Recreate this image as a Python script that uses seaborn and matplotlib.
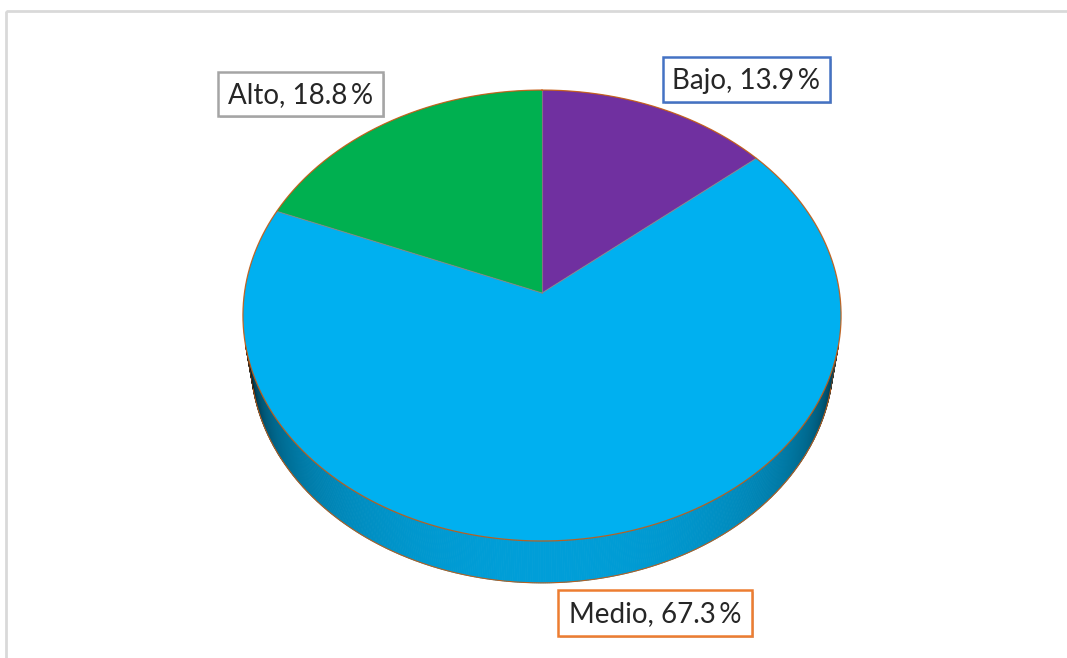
import numpy as np
import matplotlib
matplotlib.use("Agg")
import matplotlib.pyplot as plt
import matplotlib.patheffects as pe
from matplotlib.patches import Polygon, Rectangle
import seaborn as sns

# ---- data -------------------------------------------------------------
categories = ["Bajo", "Medio", "Alto"]
percentages = [13.9, 67.3, 18.8]
slice_colors = ["#7030A0", "#00B0F0", "#00B050"]
label_edge_colors = ["#4472C4", "#ED7D31", "#A5A5A5"]

sns.set_theme(style="white")
plt.rcParams["font.family"] = ["Lato", "DejaVu Sans"]
palette = sns.color_palette(slice_colors)

W, H = 1067, 658
fig = plt.figure(figsize=(W / 100, H / 100), dpi=100)
ax = fig.add_axes([0, 0, 1, 1])
ax.set_xlim(0, W)
ax.set_ylim(H, 0)
ax.axis("off")

# chart area frame
ax.add_patch(Rectangle((6, 11), W, H, fill=False, edgecolor="#D9D9D9", lw=2.0))

# ---- perspective camera for a tilted disk ----------------------------
FOCAL = 1970.0
DIST = 6.62
ELEV = np.radians(48.6)
CX, CY = 542.0, 293.0
THICK = 0.23


def project(theta_deg, r=1.0, z=0.0):
    th = np.radians(theta_deg)
    X = r * np.sin(th)
    Y = r * np.cos(th)
    v = Y * np.sin(ELEV) + z * np.cos(ELEV)
    depth = DIST + Y * np.cos(ELEV) - z * np.sin(ELEV)
    return CX + FOCAL * X / depth, CY - FOCAL * v / depth


bounds = np.concatenate([[0.0], 360.0 * np.cumsum(percentages) / np.sum(percentages)])


def slice_index(theta):
    t = theta % 360.0
    return int(np.clip(np.searchsorted(bounds, t, side="right") - 1, 0, len(percentages) - 1))


# ---- cylinder side (visible front part) -------------------------------
lim = np.degrees(np.arccos(-1.0 / (DIST * np.cos(ELEV))))
th_side = np.linspace(lim, 360.0 - lim, 400)
cam = np.array([0.0, -DIST * np.cos(ELEV), DIST * np.sin(ELEV)])


def side_shade(theta):
    th = np.radians(theta)
    p = np.array([np.sin(th), np.cos(th), -THICK / 2])
    n = np.array([np.sin(th), np.cos(th), 0.0])
    v = cam - p
    return max(np.dot(n, v) / np.linalg.norm(v), 0.0)


shades = np.array([side_shade(t) for t in th_side])
shades = shades / shades.max()
for i in range(len(th_side) - 1):
    a, b = th_side[i], th_side[i + 1]
    k = slice_index((a + b) / 2)
    s = 0.90 * ((shades[i] + shades[i + 1]) / 2) ** 0.4
    col = np.clip(np.array(palette[k]) * s, 0, 1)
    pts = [project(a), project(b), project(b, z=-THICK), project(a, z=-THICK)]
    ax.add_patch(Polygon(pts, closed=True, facecolor=col, edgecolor=col, lw=0.6))

# outline of the side
bx, by = zip(*[project(t, z=-THICK) for t in th_side])
ax.plot(bx, by, color="#C55A11", lw=0.8, alpha=0.9)
for t in (th_side[0], th_side[-1]):
    x0, y0 = project(t)
    x1, y1 = project(t, z=-THICK)
    ax.plot([x0, x1], [y0, y1], color="#C55A11", lw=0.6, alpha=0.6)

# ---- top face slices ---------------------------------------------------
center = project(0.0, r=0.0)
for k in range(len(percentages)):
    arc = np.linspace(bounds[k], bounds[k + 1], 200)
    pts = [center] + [project(t) for t in arc]
    ax.add_patch(Polygon(pts, closed=True, facecolor=palette[k], edgecolor="none"))

for t in bounds[:-1]:
    x1, y1 = project(t)
    ax.plot([center[0], x1], [center[1], y1], color="#8C7F80", lw=0.8, alpha=0.8)

rim = np.linspace(0, 360, 721)
rx, ry = zip(*[project(t) for t in rim])
ax.plot(rx, ry, color="#C55A11", lw=0.9, alpha=0.9)

# ---- data labels ---------------------------------------------------------
label_boxes = {
    "Bajo": (663, 57, 167, 45),
    "Medio": (558, 590, 194, 46),
    "Alto": (218, 72, 165, 44),
}
shadow = [pe.SimplePatchShadow(offset=(1.5, -1.5), shadow_rgbFace="#000000", alpha=0.2), pe.Normal()]
for cat, pct, ec in zip(categories, percentages, label_edge_colors):
    x, y, w, h = label_boxes[cat]
    box = Rectangle((x, y), w, h, facecolor="white", edgecolor=ec, lw=1.8, zorder=5)
    box.set_path_effects(shadow)
    ax.add_patch(box)
    ax.text(x + w / 2, y + h / 2 + 1, f"{cat}, {pct:.1f}\u2009%", ha="center", va="center",
            fontsize=20, color="#262626", zorder=6)

fig.savefig("out.png", dpi=100)
